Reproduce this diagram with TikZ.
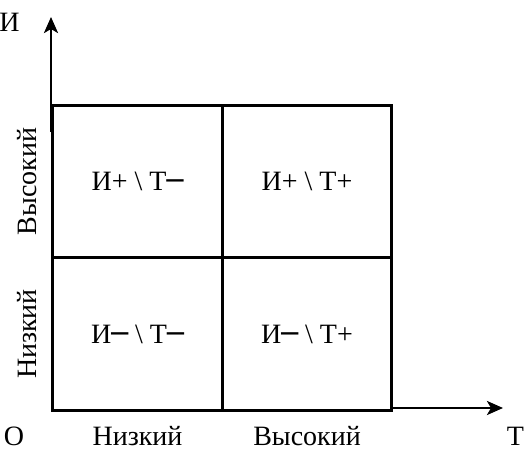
\documentclass[tikz,border=0pt]{standalone}
\usepackage{fontspec}
\setmainfont{Liberation Serif}
\newfontfamily\boxfont{DejaVu Sans}
\usetikzlibrary{arrows.meta}
\newcommand{\mns}{{\boxfont ─}}

\begin{document}
\begin{tikzpicture}[x=1pt, y=-1pt, >={Stealth[length=16pt, width=14pt, inset=4pt]},
    font=\fontsize{28}{33}\selectfont,
    cell/.style={draw, line width=2.8pt, minimum width=169.5pt, minimum height=152.5pt, inner sep=0pt},
    axis/.style={->, line width=2.6pt}]
      \useasboundingbox (0,0) rectangle (525,451);
      % quadrants
      \node[cell] (hl) at (137.5,181.5) {И+ \textbackslash{} Т\mns};
      \node[cell] (hh) at (307,181.5) {И+ \textbackslash{} Т+};
      \node[cell] (ll) at (137.5,334) {И\mns{} \textbackslash{} Т\mns};
      \node[cell] (lh) at (307,334) {И\mns{} \textbackslash{} Т+};
      % axes
      \coordinate (ybase) at (51,132);
      \coordinate (ytip) at (51,17);
      \coordinate (xbase) at (390,408);
      \coordinate (xtip) at (503,408);
      \draw[axis] (ybase) -- (ytip);
      \draw[axis] (xbase) -- (xtip);
      % axis labels
      \node (ilab) at (9.5,22) {И};
      \node (olab) at (14,436) {О};
      \node (tlab) at (515.5,436) {Т};
      \node (tlow) at (137.5,436) {Низкий};
      \node (thigh) at (307,436) {Высокий};
      \node[rotate=90] (ihigh) at (27,181.5) {Высокий};
      \node[rotate=90] (ilow) at (27,334) {Низкий};
    \end{tikzpicture}
\end{document}
